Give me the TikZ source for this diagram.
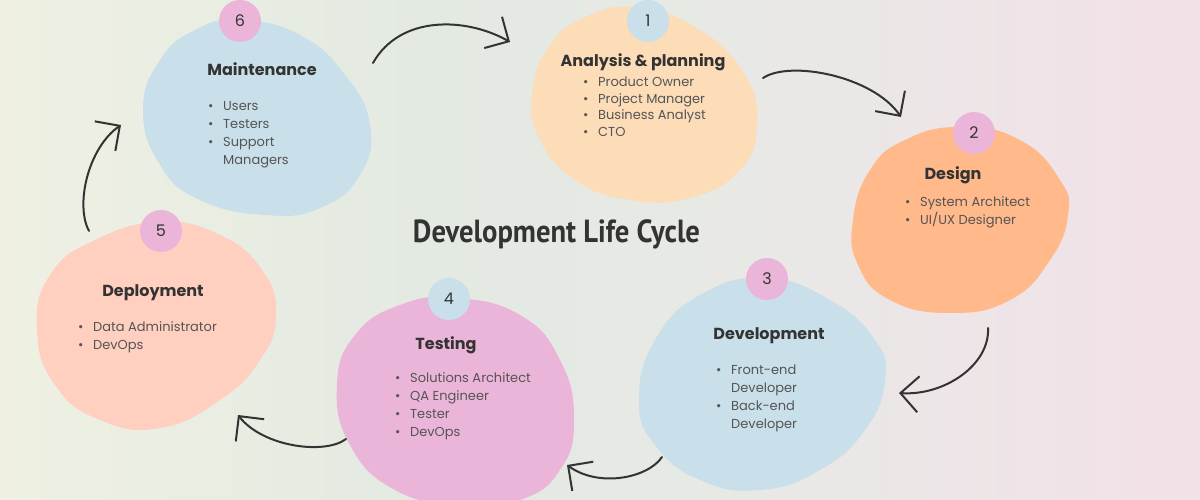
\documentclass[tikz,border=0pt]{standalone}
\usepackage{fontspec}
\setmainfont{Poppins}
\newfontfamily\headfont{PT Sans}
\usetikzlibrary{arrows.meta}
\definecolor{bgL}{HTML}{EFF0E2}
\definecolor{bgG}{HTML}{E3EAE2}
\definecolor{bgM}{HTML}{E9E8E6}
\definecolor{bgR}{HTML}{F3E1E8}
\definecolor{blobBlue}{HTML}{C9DFEA}
\definecolor{blobPeach}{HTML}{FDDCB8}
\definecolor{blobOrange}{HTML}{FFB98A}
\definecolor{blobPink}{HTML}{EBB5D9}
\definecolor{blobSalmon}{HTML}{FFCFC0}
\definecolor{ink}{HTML}{333333}
\definecolor{grayText}{HTML}{555555}
\pgfdeclarehorizontalshading{bgshade}{100bp}{color(0bp)=(bgL); color(25bp)=(bgL); color(43bp)=(bgG); color(58bp)=(bgM); color(75bp)=(bgR); color(100bp)=(bgR)}
\newcommand\blt{\makebox[15pt][l]{\textbullet}}
\newcommand\bsp{\hspace*{15pt}}
\tikzset{
  badge/.style={circle, minimum size=42pt, inner sep=0pt, text=ink, font=\fontsize{16}{18}\selectfont},
  phasetitle/.style={anchor=base, inner sep=0pt, text=ink, font=\fontsize{16}{18}\selectfont\bfseries},
  rolelist/.style={anchor=base west, inner sep=0pt, text=grayText, font=\fontsize{13}{18}\selectfont},
  flow/.style={draw=ink, line width=2pt, line cap=round, -{Straight Barb[length=18pt,width=36pt,line width=2pt]}}
}
\begin{document}
\begin{tikzpicture}[x=1pt,y=-1pt]
\useasboundingbox (0,0) rectangle (1200,500);
\shade[shading=bgshade] (0,0) rectangle (1200,500);

% blobs
\fill[blobBlue] plot[smooth cycle, tension=0.8] coordinates {(240,20) (300,35) (345,75) (370,125) (360,175) (320,208) (265,215) (200,200) (160,165) (143,110) (160,60) (195,30)};
\fill[blobPeach] plot[smooth cycle, tension=0.8] coordinates {(640,8) (700,30) (745,75) (757,125) (740,170) (690,198) (630,200) (575,180) (540,140) (532,95) (550,45) (590,15)};
\fill[blobOrange] plot[smooth cycle, tension=0.8] coordinates {(960,127) (1020,140) (1060,180) (1068,215) (1050,260) (1010,300) (950,313) (890,300) (858,265) (853,220) (870,170) (905,140)};
\fill[blobBlue] plot[smooth cycle, tension=0.8] coordinates {(765,278) (830,300) (875,340) (885,380) (865,430) (820,470) (760,490) (700,480) (655,445) (639,400) (655,340) (700,295)};
\fill[blobPink] plot[smooth cycle, tension=0.8] coordinates {(455,298) (520,315) (560,360) (574,420) (560,470) (520,500) (460,505) (395,490) (350,445) (337,385) (355,335) (400,305)};
\fill[blobSalmon] plot[smooth cycle, tension=0.8] coordinates {(160,222) (220,235) (262,270) (276,315) (260,360) (220,400) (160,428) (100,420) (55,385) (37,330) (50,275) (95,240)};

% badges
\node[badge, fill=blobPink] (b6) at (240,21) {6};
\node[badge, fill=blobBlue] (b1) at (648,21) {1};
\node[badge, fill=blobPink] (b2) at (974,133) {2};
\node[badge, fill=blobPink] (b3) at (767,279) {3};
\node[badge, fill=blobBlue] (b4) at (449,299) {4};
\node[badge, fill=blobPink] (b5) at (161,231) {5};

% titles
\node[phasetitle] (t6) at (262,76) {Maintenance};
\node[phasetitle] (t1) at (643,67) {Analysis \& planning};
\node[phasetitle] (t2) at (953,179) {Design};
\node[phasetitle] (t3) at (769,339) {Development};
\node[phasetitle] (t4) at (446,349) {Testing};
\node[phasetitle] (t5) at (153,296) {Deployment};

% role lists
\node[rolelist] (l6) at (208,111) {\begin{tabular}[t]{@{}l@{}}\blt Users\\ \blt Testers\\ \blt Support\\ \bsp Managers\end{tabular}};
\node[rolelist, font=\fontsize{13}{16.4}\selectfont] (l1) at (583,87) {\begin{tabular}[t]{@{}l@{}}\blt Product Owner\\ \blt Project Manager\\ \blt Business Analyst\\ \blt CTO\end{tabular}};
\node[rolelist] (l2) at (905,206) {\begin{tabular}[t]{@{}l@{}}\blt System Architect\\ \blt UI/UX Designer\end{tabular}};
\node[rolelist] (l3) at (716,374) {\begin{tabular}[t]{@{}l@{}}\blt Front-end\\ \bsp Developer\\ \blt Back-end\\ \bsp Developer\end{tabular}};
\node[rolelist] (l4) at (395,382) {\begin{tabular}[t]{@{}l@{}}\blt Solutions Architect\\ \blt QA Engineer\\ \blt Tester\\ \blt DevOps\end{tabular}};
\node[rolelist] (l5) at (78,331) {\begin{tabular}[t]{@{}l@{}}\blt Data Administrator\\ \blt DevOps\end{tabular}};

% central title
\node[text=ink, inner sep=0pt, anchor=base] (main) at (556.5,243) {\resizebox{287pt}{\height}{\headfont\bfseries\fontsize{32}{34}\selectfont Development Life Cycle}};

% connectors
\coordinate (a6s) at (373,63);  \coordinate (a6e) at (510,42);
\coordinate (a1s) at (763,78);  \coordinate (a1e) at (901,117);
\coordinate (a2s) at (988,328); \coordinate (a2e) at (899,393);
\coordinate (a3s) at (662,457); \coordinate (a3e) at (567,465);
\coordinate (a4s) at (346,439); \coordinate (a4e) at (238,415);
\coordinate (a5s) at (89,231);  \coordinate (a5e) at (121,125);
\draw[flow] (a6s) .. controls (400,15) and (466,17) .. (a6e);
\draw[flow] (a1s) .. controls (790,60) and (873,76) .. (a1e);
\draw[flow] (a2s) .. controls (990,365) and (944,396) .. (a2e);
\draw[flow] (a3s) .. controls (648,478) and (599,488) .. (a3e);
\draw[flow] (a4s) .. controls (325,455) and (263,447) .. (a4e);
\draw[flow] (a5s) .. controls (75,205) and (88,148) .. (a5e);
\end{tikzpicture}
\end{document}
